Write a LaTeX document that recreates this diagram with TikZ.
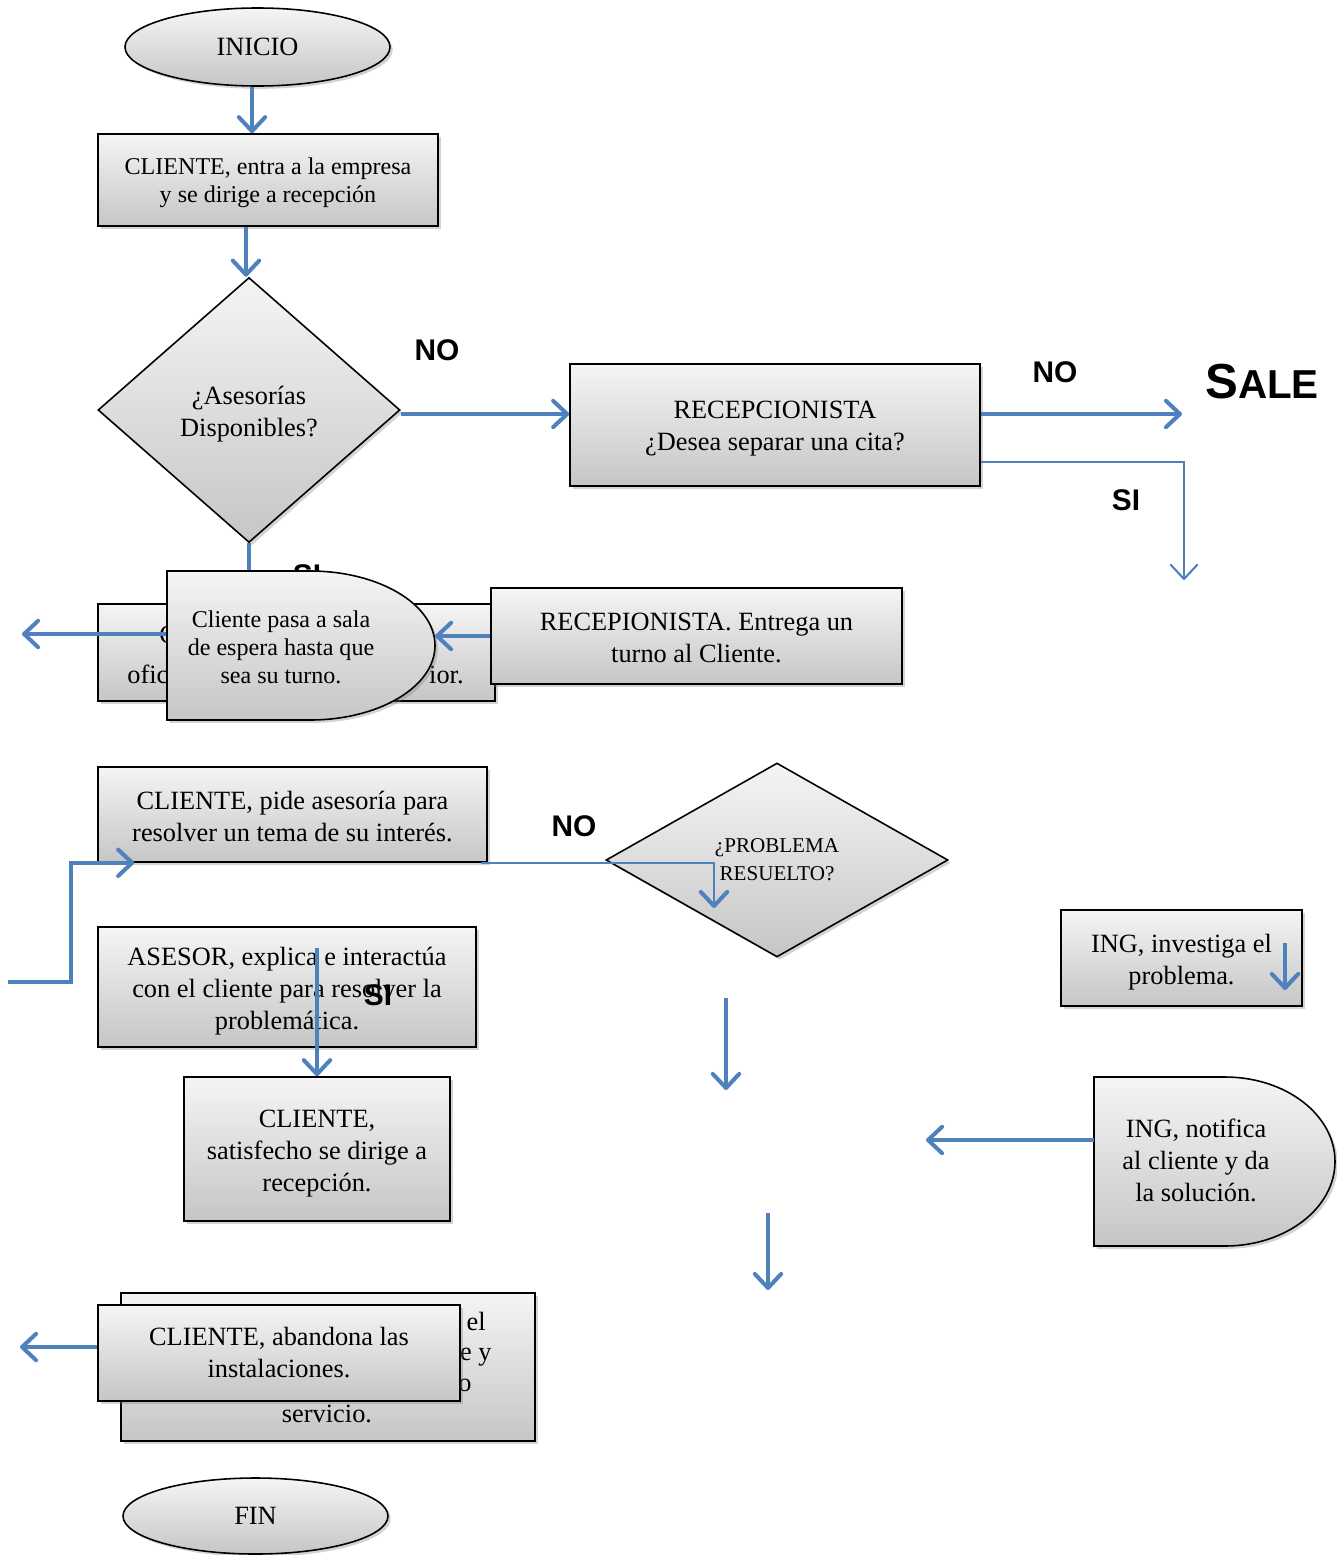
\documentclass[tikz,border=0pt]{standalone}
\usepackage{fontspec}
\setmainfont{Liberation Serif}
\newfontfamily\labfont{Liberation Sans}
\usetikzlibrary{shapes.geometric,shadows,arrows.meta}
\definecolor{ablue}{HTML}{4F81BD}
\newcommand\PX{0.02cm}
\newcommand\upstrut[1]{\rule{0pt}{#1em}}
\newcommand\delayshape[5]{%
  \path[shadebox] (#1,#2) -- (#3,#2)
    .. controls ({#3+0.5523*(#4-#3)},#2) and (#4,{(#2+#5)/2-0.5523*(#5-#2)/2}) .. (#4,{(#2+#5)/2})
    .. controls (#4,{(#2+#5)/2+0.5523*(#5-#2)/2}) and ({#3+0.5523*(#4-#3)},#5) .. (#3,#5)
    -- (#1,#5) -- cycle;}
\tikzset{
  shadebox/.style={draw=black, line width=0.9pt, top color=gray!8, bottom color=gray!45,
    drop shadow={shadow xshift=1.6pt, shadow yshift=-1.6pt, opacity=0.35}},
  box/.style={shadebox, rectangle, inner sep=0pt, align=center, font=\fontsize{15}{18.2}\selectfont},
  term/.style={shadebox, ellipse, inner sep=0pt, minimum width=265*\PX, minimum height=78*\PX, font=\fontsize{15}{18}\selectfont},
  dia/.style={shadebox, diamond, aspect=1, inner sep=0pt, align=center, font=\fontsize{15}{18.2}\selectfont},
  small/.style={font=\fontsize{13.7}{15.9}\selectfont},
  txt/.style={inner sep=0pt, align=center, font=\fontsize{15}{18.2}\selectfont},
  frag/.style={inner sep=0pt, font=\fontsize{15}{18}\selectfont},
  lab/.style={inner sep=0pt, font=\labfont\bfseries\fontsize{17}{17}\selectfont},
  conn/.style={draw=ablue, line width=2.3pt, -{Straight Barb[length=8pt,width=15pt,round]}},
  thinconn/.style={draw=ablue, line width=1.2pt, -{Straight Barb[length=8pt,width=15pt,round]}},
  thinconnb/.style={draw=ablue, line width=1.2pt, -{Straight Barb[length=8pt,width=15pt,round,line width=2.3pt]}},
}
\begin{document}
\begin{tikzpicture}[x=0.02cm, y=-0.02cm]
\useasboundingbox (0,0) rectangle (1337,1555);

% ---- top
\node[term] (inicio) at (257.5,47) {INICIO};
\node[box, small, minimum width=340*\PX, minimum height=92*\PX] (b1) at (268,180) {\upstrut{0.93}CLIENTE, entra a la empresa\\y se dirige a recepción};
\draw[conn] ([xshift=-5.5*\PX]inicio.south) -- ([xshift=-16*\PX]b1.north);
\node[dia, minimum width=302*\PX, minimum height=265*\PX] (dia1) at (249,410) {\upstrut{0.99}¿Asesorías\\Disponibles?};
\draw[conn] ([xshift=-22*\PX]b1.south) -- ([xshift=-3*\PX]dia1.north);
\node[box, minimum width=410*\PX, minimum height=122*\PX] (rec1) at (775,425) {\upstrut{0.96}RECEPCIONISTA\\¿Desea separar una cita?};
\coordinate (y414) at (0,414);
\draw[conn] (dia1.east |- y414) -- (rec1.west |- y414);
\node[lab] (no1) at (437,350) {NO};
\coordinate (saleEnd) at (1182,414);
\draw[conn] (rec1.east |- saleEnd) -- (saleEnd);
\node[lab] (no2) at (1055,372) {NO};
\node[inner sep=0pt, font=\labfont\bfseries] (sale) at (1262,382) {\fontsize{28}{28}\selectfont S\fontsize{23}{23}\selectfont ALE};
\coordinate (siTurn) at (1184,462);
\coordinate (siEnd) at (1184,580);
\draw[thinconn] (rec1.east |- siTurn) -- (siTurn) -- (siEnd);
\node[lab] (si1) at (1126,500) {SI};

% ---- second row
\node[lab] (si2) at (307,575) {SI};
\node[box, minimum width=397*\PX, minimum height=97*\PX] (hidA) at (296.5,652.5) {};
\draw[conn, -] (dia1.south) -- (dia1.south |- hidA.north);
\node[frag, anchor=base west] (fa1) at (159,643) {C};
\node[frag, anchor=base west] (fa2) at (127,683) {ofic};
\node[frag, anchor=base east] (fa3) at (464,683) {ior.};
\coordinate (pasaW) at (166,634);
\coordinate (leftA) at (22,634);
\draw[conn] (pasaW) -- (leftA);
\node[box, minimum width=411*\PX, minimum height=96*\PX] (rep) at (696.5,636) {\upstrut{0.78}RECEPIONISTA. Entrega un\\turno al Cliente.};
\delayshape{167}{571}{310}{435}{720}
\node[txt, small] (pasa) at (281,647) {Cliente pasa a sala\\de espera hasta que\\sea su turno.};
\coordinate (pasaE) at (435,636);
\draw[conn] (rep.west |- pasaE) -- (pasaE);

% ---- third row
\node[box, minimum width=389*\PX, minimum height=95*\PX] (pide) at (292.5,814.5) {\upstrut{0.84}CLIENTE, pide asesoría para\\resolver un tema de su interés.};
\coordinate (lc) at (8,982);
\draw[conn] (lc) -| ([xshift=-26*\PX]pide.south west) -- ([xshift=37*\PX]pide.south west);
\node[dia, font=\fontsize{12}{15.9}\selectfont, minimum width=342*\PX, minimum height=194*\PX] (dia2) at (777,860) {¿PROBLEMA\\RESUELTO?};
\coordinate (noEnd) at (714,908);
\draw[thinconnb] ([xshift=-7*\PX]pide.south east) -| (noEnd);
\node[lab] (no3) at (574,826) {NO};

\node[box, minimum width=378*\PX, minimum height=120*\PX] (ases) at (287,987) {\upstrut{0.99}ASESOR, explica e interactúa\\con el cliente para resolver la\\problemática.};
\node[box, minimum width=266*\PX, minimum height=144*\PX] (sat) at (317,1149) {\upstrut{1.04}CLIENTE,\\satisfecho se dirige a\\recepción.};
\coordinate (asStart) at (317,948);
\draw[conn] (asStart) -- (sat.north);
\node[lab] (si3) at (378,995) {SI};

\coordinate (fa) at (726,998);
\coordinate (fb) at (726,1090);
\draw[conn] (fa) -- (fb);
\coordinate (fc) at (768,1213);
\coordinate (fd) at (768,1290);
\draw[conn] (fc) -- (fd);

% ---- right side
\node[box, minimum width=241*\PX, minimum height=96*\PX] (inv) at (1181.5,958) {\upstrut{0.99}ING, investiga el\\problema.};
\coordinate (invA) at (1285,943);
\coordinate (invB) at (1285,990);
\draw[conn] (invA) -- (invB);
\delayshape{1094}{1077}{1225}{1335}{1246}
\node[txt] (notif) at (1196,1160) {ING, notifica\\al cliente y da\\la solución.};
\coordinate (notW) at (1094,1140);
\coordinate (notEnd) at (926,1140);
\draw[conn] (notW) -- (notEnd);

% ---- bottom
\node[box, minimum width=414*\PX, minimum height=148*\PX] (hidB) at (328,1367) {};
\node[frag, anchor=base east] (fb1) at (486,1330) {el};
\node[frag, anchor=base east] (fb2) at (492,1360) {e y};
\node[frag, anchor=base east] (fb3) at (472,1391) {o};
\node[frag, anchor=base] (fb4) at (327,1422) {servicio.};
\node[box, minimum width=362*\PX, minimum height=96*\PX] (aband) at (279,1353) {CLIENTE, abandona las\\instalaciones.};
\coordinate (abEnd) at (20,1347);
\draw[conn] (aband.west |- abEnd) -- (abEnd);

\node[term, minimum height=76*\PX] (fin) at (255.5,1516) {FIN};
\end{tikzpicture}
\end{document}
